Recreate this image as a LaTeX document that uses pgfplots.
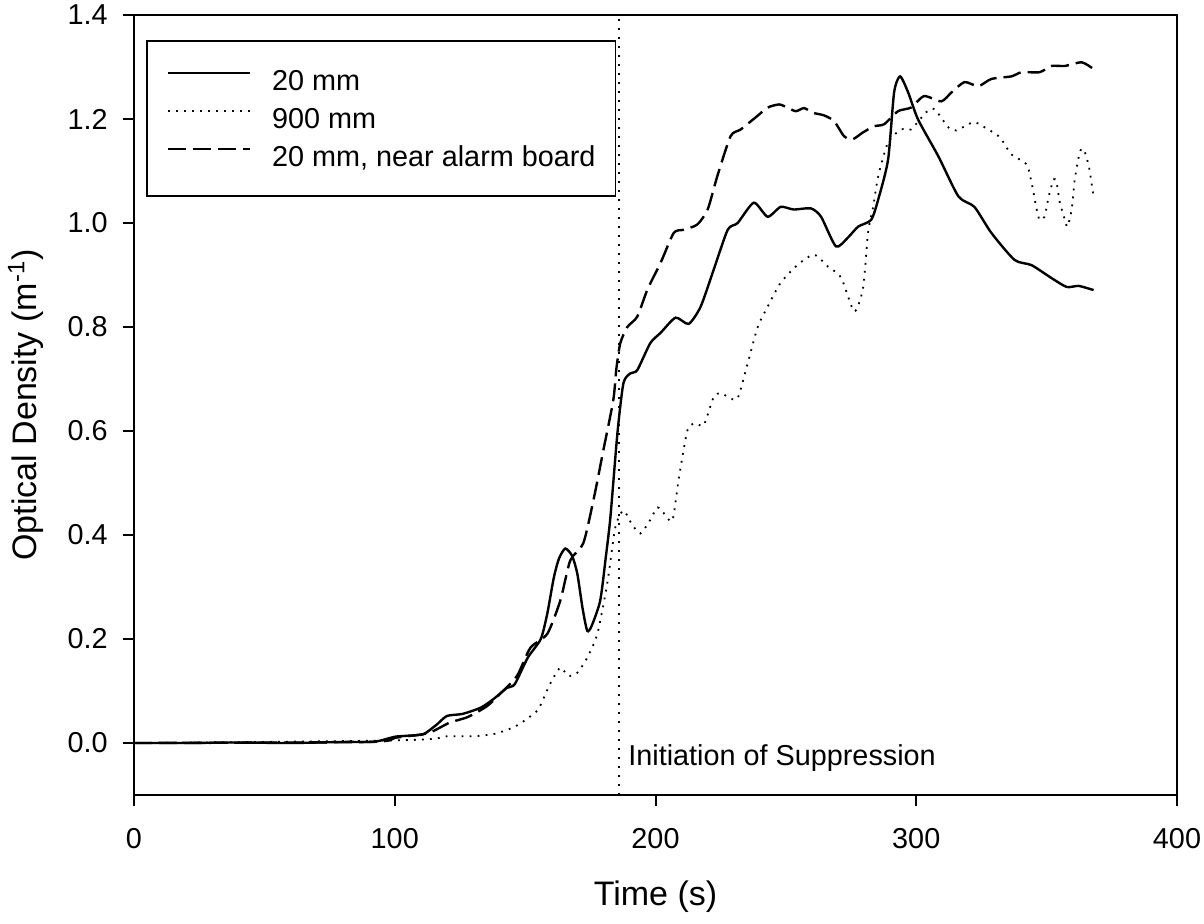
\documentclass[border=0pt]{standalone}
\usepackage{pgfplots}
\pgfplotsset{compat=1.18}
\usepackage{fontspec}
\setmainfont{Liberation Sans}
\begin{document}
\begin{tikzpicture}
\useasboundingbox (0,0) rectangle (602pt,461.5pt);
\begin{axis}[
  at={(67pt,64pt)}, anchor=south west,
  scale only axis, width=521.5pt, height=390pt,
  xmin=0, xmax=400, ymin=-0.1, ymax=1.4,
  xtick={0,100,200,300,400},
  ytick={0,0.2,0.4,0.6,0.8,1.0,1.2,1.4},
  tick align=outside, major tick length=5.5pt,
  xtick pos=bottom, ytick pos=left,
  axis line style={line width=1pt},
  every tick/.style={line width=1pt, black},
  /pgf/number format/assume math mode=true,
  xticklabel style={font=\fontsize{14.4}{17}\selectfont, inner sep=0pt},
  yticklabel style={font=\fontsize{14.4}{17}\selectfont, inner sep=0pt, /pgf/number format/fixed, /pgf/number format/fixed zerofill, /pgf/number format/precision=1},
  xticklabel shift=11pt,
  yticklabel shift=7.5pt,
  xlabel={Time (s)},
  ylabel={Optical Density (m\textsuperscript{-1})},
  label style={font=\fontsize{17}{20}\selectfont},
  xlabel style={at={(axis description cs:0.5,-0.131)}, anchor=center},
  ylabel style={at={(axis description cs:-0.1035,0.5)}, anchor=center},
  legend style={at={(axis description cs:0.0115,0.968)}, anchor=north west,
    draw=black, line width=0.8pt, inner xsep=10pt, inner ysep=13pt,
    row sep=5.5pt, column sep=10.5pt,
    font=\fontsize{14.4}{17}\selectfont,
    nodes={inner sep=0pt, text height=12pt, text depth=1.5pt}},
  legend cell align=left,
  legend image code/.code={\draw[#1] (0pt,3.75pt) -- (41pt,3.75pt);},
]
\addplot[black, line width=1.2pt, smooth, tension=0.4] coordinates {
(0,0) (20,0.0) (40,0.001) (60,0.0) (80,0.002) (90,0.002) (94,0.004) (100,0.012)
(105,0.014) (111,0.017) (116,0.035) (120,0.052) (126,0.056) (133,0.068) (138,0.085)
(143,0.106) (146,0.113) (151,0.164) (156,0.200) (158.5,0.249) (161,0.318) (163,0.355)
(165.4,0.374) (168,0.36) (170,0.326) (172,0.26) (173.8,0.216) (175.5,0.225) (178.8,0.274)
(181,0.36) (182.7,0.434) (185.4,0.596) (187.7,0.692) (190.4,0.711) (193,0.717) (198,0.769)
(202,0.789) (207.7,0.818) (212.7,0.806) (217.3,0.839) (222.3,0.91) (227.7,0.987) (231.5,1.0)
(237.7,1.039) (243,1.012) (248,1.031) (253,1.026) (259.6,1.028) (263.5,1.012) (269.2,0.955)
(273.8,0.972) (277.7,0.993) (282.7,1.006) (285.4,1.045) (289.2,1.122) (291.5,1.251)
(293.8,1.282) (296.9,1.251) (300.7,1.199) (308.5,1.128) (316.2,1.051) (322.3,1.031)
(328.8,0.981) (337.7,0.929) (344.2,0.919) (351.9,0.894) (357.7,0.877) (362.3,0.879) (368,0.871)
};
\addlegendentry{20 mm}
\addplot[black, line width=0.9pt, dash pattern=on 0.9pt off 3.1pt, smooth, tension=0.4] coordinates {
(0,0.0) (50,0.002) (100,0.005) (115,0.008) (120,0.013) (130,0.013) (137.7,0.017) (143,0.025)
(148,0.037) (154.6,0.062) (157,0.085) (159.6,0.114) (163.5,0.145) (166.5,0.129) (170,0.135)
(173.8,0.164) (177.7,0.21) (181.5,0.307) (184.6,0.415) (187.7,0.447) (191,0.42) (194.2,0.403)
(197.5,0.425) (200.8,0.453) (203.5,0.44) (206.5,0.428) (209,0.511) (212.3,0.602) (215.4,0.615)
(218.5,0.611) (222.3,0.665) (225,0.673) (228,0.665) (231.5,0.663) (235.4,0.731) (239.2,0.8)
(243,0.839) (248,0.885) (254.6,0.92) (260.8,0.939) (266.2,0.916) (271.2,0.895) (276.2,0.83)
(279.6,0.875) (281.5,0.981) (283.5,1.032) (285.4,1.09) (289.2,1.155) (294.2,1.18) (298,1.18)
(303.8,1.213) (307,1.219) (312.3,1.184) (315.4,1.178) (321.9,1.194) (326.2,1.184) (332,1.165)
(336.5,1.132) (342.3,1.113) (344.2,1.078) (346.2,1.026) (347.3,1.006) (349.2,1.012) (350.8,1.051)
(352.7,1.084) (353.8,1.078) (355,1.041) (357,1.006) (358,0.993) (359.6,1.026) (360.8,1.084)
(362.7,1.136) (364.2,1.142) (366.2,1.109) (368,1.051)
};
\addlegendentry{900 mm}
\addplot[black, line width=1.2pt, dash pattern=on 9pt off 3.5pt, smooth, tension=0.4] coordinates {
(0,0) (90,0.002) (100,0.01) (108,0.015) (113.5,0.02) (121,0.039) (128,0.05) (135.4,0.071)
(141.5,0.1) (147,0.13) (152,0.183) (158.5,0.21) (163.5,0.274) (167.3,0.351) (172.3,0.384)
(176.2,0.467) (180,0.563) (183.8,0.659) (185,0.72) (186.5,0.769) (189.2,0.8) (193,0.82)
(196.9,0.872) (202,0.924) (207,0.981) (210.8,0.987) (216,0.997) (220,1.026) (223.7,1.09)
(228.8,1.167) (232.7,1.18) (239.1,1.206) (243,1.222) (247.4,1.228) (250.6,1.222) (253.8,1.215)
(257,1.221) (260.3,1.212) (264.6,1.207) (268.5,1.196) (272.3,1.167) (275.6,1.161) (279.5,1.174)
(283.8,1.186) (287.7,1.19) (293,1.215) (298,1.222) (303,1.244) (309.6,1.234) (313.5,1.251)
(318.5,1.271) (323.8,1.263) (328.8,1.277) (336.5,1.282) (340.4,1.29) (347.3,1.29) (351.9,1.302)
(357,1.302) (363.5,1.309) (368,1.296)
};
\addlegendentry{20 mm, near alarm board}
\addplot[black, line width=0.9pt, dash pattern=on 0.9pt off 3.6pt, forget plot] coordinates {(186,-0.1) (186,1.4)};
\node[anchor=west, font=\fontsize{14.4}{17}\selectfont, inner sep=0pt, xshift=4.5pt] at (axis cs:186,-0.029) {Initiation of Suppression};
\end{axis}
\end{tikzpicture}
\end{document}
